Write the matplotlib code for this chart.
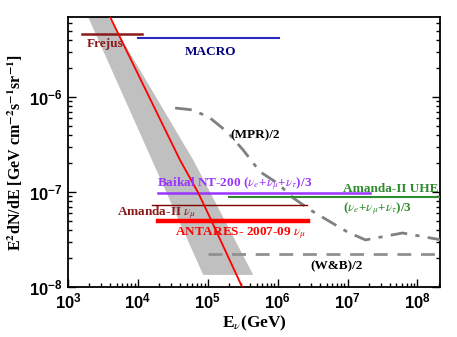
import numpy as np
import matplotlib
matplotlib.use("Agg")
import matplotlib.pyplot as plt
from matplotlib.ticker import LogLocator, FuncFormatter, NullFormatter

plt.rcParams['mathtext.fontset'] = 'custom'
plt.rcParams['mathtext.rm'] = 'Liberation Sans:bold'
plt.rcParams['mathtext.it'] = 'Liberation Sans:bold'
plt.rcParams['mathtext.bf'] = 'Liberation Sans:bold'

# ---- data ----
frejus_E = [1.58e3, 1.15e4]
frejus_flux = [4.6e-6, 4.6e-6]
macro_E = [1.0e4, 1.05e6]
macro_flux = [4.18e-6, 4.18e-6]
baikal_E = [1.95e4, 2.1e7]
baikal_flux = [9.7e-8, 9.7e-8]
amanda_uhe_E = [2.0e5, 2.2e8]
amanda_uhe_flux = [8.85e-8, 8.85e-8]
amanda_numu_E = [1.6e4, 2.66e6]
amanda_numu_flux = [7.3e-8, 7.3e-8]
antares_E = [1.94e4, 2.7e6]
antares_flux = [5.0e-8, 5.0e-8]
wb_E = [1.0e5, 2.2e8]
wb_flux = [2.25e-8, 2.25e-8]

atm_E = [4.0e3, 4.0e4, 7.3e4, 1.15e5, 3.1e5]
atm_flux = [6.95e-6, 2.17e-7, 9.8e-8, 4.83e-8, 1.0e-8]

band_left_E = [1.94e3, 8.6e4]
band_left_flux = [6.95e-6, 1.34e-8]
band_right_E = [3.8e3, 6.2e4, 4.47e5]
band_right_flux = [6.95e-6, 2.17e-7, 1.34e-8]

mpr_E = [3.41e4, 6.18e4, 1.08e5, 1.9e5, 3.2e5, 5.6e5, 9.9e5, 1.67e6, 2.93e6,
         5.1e6, 9.9e6, 1.8e7, 6.1e7, 2.2e8]
mpr_flux = [7.65e-7, 7.3e-7, 6.0e-7, 4.28e-7, 2.77e-7, 1.63e-7, 1.24e-7, 8.65e-8,
            6.47e-8, 5.07e-8, 3.8e-8, 3.13e-8, 3.7e-8, 3.13e-8]

# ---- figure ----
fig = plt.figure(figsize=(4.57, 3.37), dpi=100)
ax = fig.add_axes([0.1488, 0.1484, 0.9628 - 0.1488, 0.9496 - 0.1484])
ax.set_xscale('log')
ax.set_yscale('log')
ax.set_xlim(1e3, 2.1e8)
ax.set_ylim(1e-8, 6.95e-6)

# band
poly_E = band_left_E + band_right_E[::-1]
poly_f = band_left_flux + band_right_flux[::-1]
ax.fill(poly_E, poly_f, color='#c0c0c0', lw=0, zorder=1)

ax.plot(atm_E, atm_flux, color='#ff0000', lw=1.3, zorder=5)
ax.plot(mpr_E, mpr_flux, color='#808080', lw=2, ls=(0, (6, 3, 1.5, 3)), zorder=3)
ax.plot(wb_E, wb_flux, color='#909090', lw=2, ls=(0, (5, 3.5)), zorder=3)

ax.plot(frejus_E, frejus_flux, color='#8b1a1a', lw=1.8, zorder=4)
ax.plot(macro_E, macro_flux, color='#2a2ac0', lw=1.5, zorder=4)
ax.plot(baikal_E, baikal_flux, color='#9933ff', lw=1.8, zorder=4)
ax.plot(amanda_uhe_E, amanda_uhe_flux, color='#2e8b2e', lw=1.5, zorder=4)
ax.plot(amanda_numu_E, amanda_numu_flux, color='#800000', lw=1.0, zorder=4)
ax.plot(antares_E, antares_flux, color='#ff0000', lw=3.2, zorder=4)


def label(x, y, s, color, ha='left'):
    fig.text(x / 457, (337 - y) / 337, s, color=color, ha=ha, va='center',
             family='Liberation Serif', fontweight='bold', fontsize=9.5,
             math_fontfamily='stix', zorder=6)

label(87, 44, 'Frejus', '#8b1a1a')
label(185, 52, 'MACRO', '#000080')
label(230, 135, '(MPR)/2', '#000000')
label(157, 184, r'Baikal NT-200 ($\nu_e$+$\nu_\mu$+$\nu_\tau$)/3', '#9933ff')
label(343, 189, 'Amanda-II UHE', '#2e8b2e')
label(343, 209, r'($\nu_e$+$\nu_\mu$+$\nu_\tau$)/3', '#2e8b2e')
label(117, 213, r'Amanda-II $\nu_\mu$', '#8b1a1a')
label(175, 233, r'ANTARES- 2007-09 $\nu_\mu$', '#ff0000')
label(310, 266, '(W&B)/2', '#000000')

# ticks
ax.xaxis.set_major_locator(LogLocator(base=10, numticks=20))
ax.xaxis.set_minor_locator(LogLocator(base=10, subs=np.arange(2, 10), numticks=100))
ax.yaxis.set_major_locator(LogLocator(base=10, numticks=20))
ax.yaxis.set_minor_locator(LogLocator(base=10, subs=np.arange(2, 10), numticks=100))
fmt = FuncFormatter(lambda v, p: r'$10^{%d}$' % int(round(np.log10(v))))
ax.xaxis.set_major_formatter(fmt)
ax.yaxis.set_major_formatter(fmt)
ax.xaxis.set_minor_formatter(NullFormatter())
ax.yaxis.set_minor_formatter(NullFormatter())
ax.tick_params(which='both', direction='in', top=False, right=True, width=1.0)
ax.tick_params(which='major', length=6, labelsize=12, pad=4)
ax.tick_params(which='minor', length=3)
for s in ax.spines.values():
    s.set_linewidth(1.3)

ax.set_xlabel(r'E$_\nu$(GeV)', family='Liberation Serif', fontweight='bold',
              fontsize=12.5, math_fontfamily='stix', labelpad=1)
ax.set_ylabel(r'E$^{\mathbf{2}}$dN/dE [GeV cm$^{\mathbf{-2}}$s$^{\mathbf{-1}}$sr$^{\mathbf{-1}}$]',
              family='Liberation Serif', fontweight='bold', fontsize=11.5,
              math_fontfamily='stix', labelpad=3)

fig.savefig('out.png', dpi=100)
